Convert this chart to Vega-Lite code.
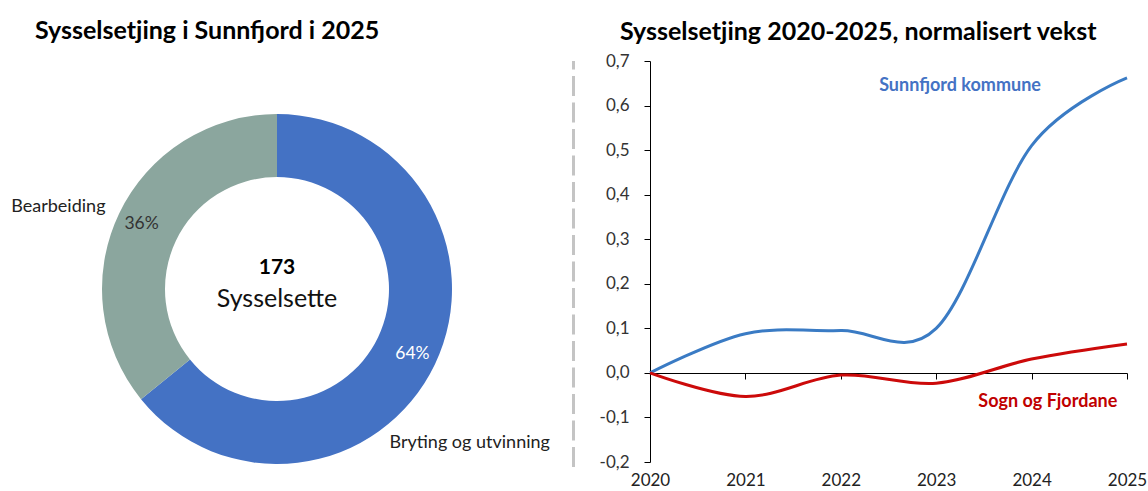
{
  "$schema": "https://vega.github.io/schema/vega-lite/v6.json",
  "padding": {"top": 19, "left": 0, "right": 0, "bottom": 0},
  "background": "white",
  "spacing": 18,
  "resolve": {"scale": {"color": "independent"}},
  "config": {
    "font": "Lato",
    "view": {"stroke": null},
    "title": {"font": "Lato", "fontSize": 25, "fontWeight": "bold", "color": "#000000", "anchor": "start", "frame": "bounds"},
    "axis": {"labelFont": "Lato", "labelFontSize": 17, "labelColor": "#333333", "domainColor": "#000000", "tickColor": "#000000", "grid": false, "title": null}
  },
  "datasets": {
    "shares": [
      {"category": "Bryting og utvinning", "value": 111, "share": 0.64},
      {"category": "Bearbeiding", "value": 62, "share": 0.36}
    ],
    "center": [{"total": "173", "unit": "Sysselsette"}],
    "divider": [{"from": 0, "to": 1}],
    "series": [
      {"year": 2020, "series": "Sunnfjord kommune", "value": 0},
      {"year": 2021, "series": "Sunnfjord kommune", "value": 0.088},
      {"year": 2022, "series": "Sunnfjord kommune", "value": 0.095},
      {"year": 2023, "series": "Sunnfjord kommune", "value": 0.1},
      {"year": 2024, "series": "Sunnfjord kommune", "value": 0.51},
      {"year": 2025, "series": "Sunnfjord kommune", "value": 0.662},
      {"year": 2020, "series": "Sogn og Fjordane", "value": 0},
      {"year": 2021, "series": "Sogn og Fjordane", "value": -0.053},
      {"year": 2022, "series": "Sogn og Fjordane", "value": -0.005},
      {"year": 2023, "series": "Sogn og Fjordane", "value": -0.023},
      {"year": 2024, "series": "Sogn og Fjordane", "value": 0.031},
      {"year": 2025, "series": "Sogn og Fjordane", "value": 0.065}
    ],
    "seriesLabels": [
      {"series": "Sunnfjord kommune", "year": 2023.25, "value": 0.645},
      {"series": "Sogn og Fjordane", "year": 2024.17, "value": -0.066}
    ]
  },
  "hconcat": [
    {
      "width": 554,
      "height": 401,
      "title": {"text": "Sysselsetjing i Sunnfjord i 2025", "dx": 35, "offset": 17},
      "data": {"name": "shares"},
      "layer": [
        {
          "mark": {"type": "arc", "outerRadius": 175, "innerRadius": 112, "yOffset": 27.5},
          "encoding": {
            "theta": {"field": "value", "type": "quantitative", "stack": true},
            "order": {"field": "category", "sort": "descending"},
            "color": {"field": "category", "type": "nominal", "scale": {"domain": ["Bryting og utvinning", "Bearbeiding"], "range": ["#4472C4", "#8BA69E"]}, "legend": null}
          }
        },
        {
          "mark": {"type": "text", "radius": 150, "fontSize": 17.5, "baseline": "middle", "align": "center", "yOffset": 27.5},
          "encoding": {
            "theta": {"field": "value", "type": "quantitative", "stack": true},
            "order": {"field": "category", "sort": "descending"},
            "text": {"field": "share", "type": "quantitative", "format": ".0%"},
            "color": {"condition": {"test": "datum.category === 'Bryting og utvinning'", "value": "#FFFFFF"}, "value": "#333333"}
          }
        },
        {
          "mark": {"type": "text", "radius": 190, "fontSize": 18, "baseline": "middle", "align": "right", "color": "#222222", "yOffset": 27.5},
          "encoding": {
            "theta": {"field": "value", "type": "quantitative", "stack": true},
            "order": {"field": "category", "sort": "descending"},
            "text": {"condition": {"test": "datum.category === 'Bearbeiding'", "field": "category", "type": "nominal"}, "value": ""}
          }
        },
        {
          "mark": {"type": "text", "radius": 190, "fontSize": 18, "baseline": "middle", "align": "left", "color": "#222222", "dx": -59, "dy": 72, "yOffset": 27.5},
          "encoding": {
            "theta": {"field": "value", "type": "quantitative", "stack": true},
            "order": {"field": "category", "sort": "descending"},
            "text": {"condition": {"test": "datum.category === 'Bryting og utvinning'", "field": "category", "type": "nominal"}, "value": ""}
          }
        },
        {
          "data": {"name": "center"},
          "mark": {"type": "text", "fontSize": 21, "fontWeight": "bold", "baseline": "middle", "align": "center", "dy": -21, "yOffset": 27.5, "color": "#000000"},
          "encoding": {"text": {"field": "total", "type": "nominal"}}
        },
        {
          "data": {"name": "center"},
          "mark": {"type": "text", "fontSize": 25, "baseline": "middle", "align": "center", "dy": 10, "yOffset": 27.5, "color": "#111111"},
          "encoding": {"text": {"field": "unit", "type": "nominal"}}
        }
      ]
    },
    {
      "width": 1,
      "height": 428,
      "data": {"name": "divider"},
      "mark": {"type": "rule", "color": "#C4C4C4", "strokeWidth": 3, "strokeDash": [20, 6.5], "yOffset": -22, "y2Offset": 0},
      "encoding": {
        "y": {"field": "from", "type": "quantitative", "scale": {"domain": [0, 1], "nice": false}, "axis": null},
        "y2": {"field": "to"}
      }
    },
    {
      "width": 477,
      "height": 401,
      "title": {"text": "Sysselsetjing 2020-2025, normalisert vekst", "dx": 27, "offset": 7},
      "layer": [
        {
          "data": {"name": "series"},
          "mark": {"type": "line", "interpolate": "cardinal", "strokeWidth": 3},
          "encoding": {
            "x": {
              "field": "year", "type": "quantitative",
              "scale": {"domain": [2020, 2025], "nice": false, "zero": false},
              "axis": {"values": [2020, 2021, 2022, 2023, 2024, 2025], "format": "d", "offset": -89, "tickSize": 6, "labelPadding": 93, "labelColor": "#222222", "labelFlush": false}
            },
            "y": {
              "field": "value", "type": "quantitative",
              "scale": {"domain": [-0.2, 0.7], "nice": false, "zero": false},
              "axis": {"values": [-0.2, -0.1, 0, 0.1, 0.2, 0.3, 0.4, 0.5, 0.6, 0.7], "tickSize": 6, "labelPadding": 15, "minExtent": 57, "labelExpr": "replace(replace(format(datum.value, '.1f'), '.', ','), '\u2212', '-')"}
            },
            "color": {"field": "series", "type": "nominal", "scale": {"domain": ["Sunnfjord kommune", "Sogn og Fjordane"], "range": ["#3A7BC4", "#CC0A0A"]}, "legend": null}
          }
        },
        {
          "data": {"name": "seriesLabels"},
          "mark": {"type": "text", "fontSize": 18, "fontWeight": "bold", "baseline": "middle", "align": "center"},
          "encoding": {
            "x": {"field": "year", "type": "quantitative"},
            "y": {"field": "value", "type": "quantitative"},
            "text": {"field": "series", "type": "nominal"},
            "color": {"condition": {"test": "datum.series === 'Sunnfjord kommune'", "value": "#4472C4"}, "value": "#C00000"}
          }
        }
      ]
    }
  ]
}
